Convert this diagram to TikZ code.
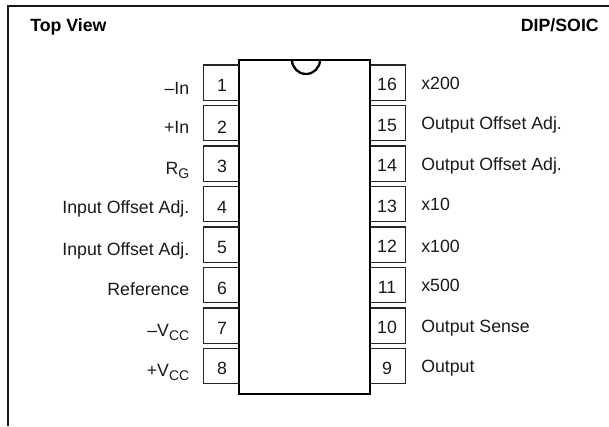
\documentclass[tikz,border=0pt]{standalone}
\usepackage{fontspec}
\setmainfont{Liberation Sans}
\tikzset{
  px/.style={x=0.75pt,y=-0.75pt},
  pinline/.style={line width=0.85pt,draw=black!85},
  pinlabel/.style={inner sep=0pt,font=\fontsize{13.3pt}{15pt}\selectfont,text=black!90},
  headlabel/.style={inner sep=0pt,font=\fontsize{13.3pt}{15pt}\selectfont\bfseries,text=black},
  frameline/.style={line width=1.4pt,draw=black!90},
  bodyline/.style={line width=1.7pt,draw=black}
}
\newcommand{\ssub}[1]{\raisebox{-3pt}{\fontsize{10.5pt}{12pt}\selectfont #1}}
\begin{document}
\begin{tikzpicture}[px]
\useasboundingbox (0,0) rectangle (609,426);
\coordinate (fa) at (8.3,426);
\coordinate (fb) at (8.3,6);
\coordinate (fc) at (609,6);
\draw[frameline] (fa) -- (fb) -- (fc);
\node[headlabel,anchor=base west] (top) at (30,31) {Top View};
\node[headlabel,anchor=base east] (dip) at (599,31.5) {DIP/SOIC};
\draw[bodyline] (239,60) -- (370,60) -- (370,394) -- (239,394) -- cycle;
\draw[bodyline] (292,60) arc[start angle=180,end angle=0,radius=14];
\foreach \n/\y/\dy/\ly/\t in {1/82.7/91/94/{--In},2/123.2/133/133.5/{+In},3/163.7/172/174/{R\ssub{G}},4/204.2/213/213/{Input Offset Adj.},5/244.7/253/255/{Input Offset Adj.},6/285.2/294/295/{Reference},7/325.7/334/336/{--V\ssub{CC}},8/366.2/374/376/{+V\ssub{CC}}}{
  \draw[pinline] (238.5,\y-17.7) -- (203.7,\y-17.7) -- (203.7,\y+17.7) -- (238.5,\y+17.7);
  \node[pinlabel,anchor=base] (p\n) at (222,\dy) {\n};
  \node[pinlabel,anchor=base east] (l\n) at (189.5,\ly) {\t};
}
\foreach \n/\y/\dy/\ly/\t in {16/82.7/90/89/x200,15/123.2/131/129.5/Output Offset Adj.,14/163.7/171/170/Output Offset Adj.,13/204.2/212/210/x10,12/244.7/252/252/x100,11/285.2/293/291/x500,10/325.7/333/332/Output Sense,9/366.2/374/372/Output}{
  \draw[pinline] (370.5,\y-17.7) -- (405.5,\y-17.7) -- (405.5,\y+17.7) -- (370.5,\y+17.7);
  \node[pinlabel,anchor=base] (p\n) at (387,\dy) {\n};
  \node[pinlabel,anchor=base west] (l\n) at (421,\ly) {\t};
}
\end{tikzpicture}
\end{document}
